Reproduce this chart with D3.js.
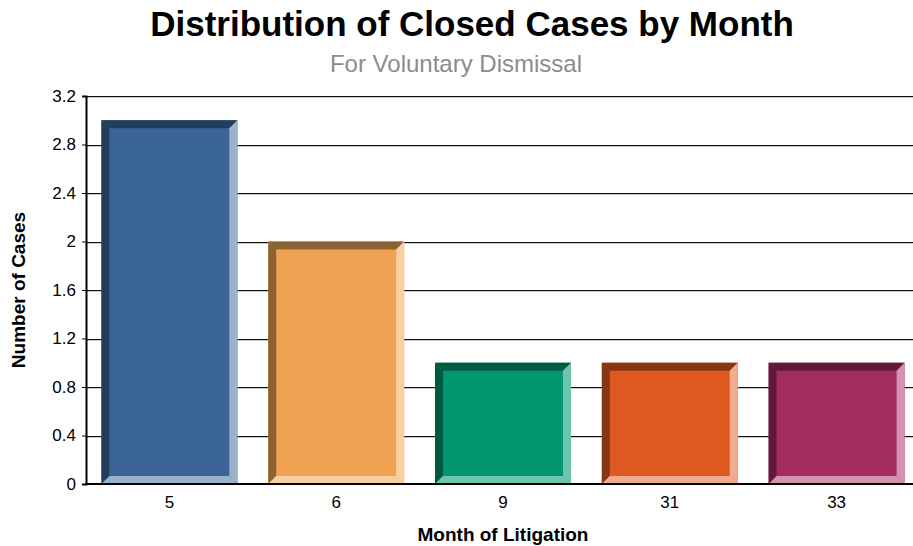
<!DOCTYPE html>
<html>
<head>
<meta charset="utf-8">
<script src="https://cdn.jsdelivr.net/npm/d3@7"></script>
<style>
  body { margin: 0; background: #fff; }
  text { font-family: "Liberation Sans", Arial, sans-serif; }
</style>
</head>
<body>
<div id="chart"></div>
<script>
var months = ["5", "6", "9", "31", "33"];
var cases = [3, 2, 1, 1, 1];
var yTicks = [0, 0.4, 0.8, 1.2, 1.6, 2, 2.4, 2.8, 3.2];
var mainColors = ["#3a6596", "#efa352", "#009670", "#de5a20", "#a22c60"];
var darkColors = ["#233d5c", "#8c6232", "#005a43", "#853613", "#61193a"];
var lightColors = ["#9bb2cc", "#f8cfa0", "#6fc4ae", "#f0ac8f", "#d393b0"];

var width = 913,
  height = 546;
var margin = {top: 96, right: -7, bottom: 62, left: 86};
var bevel = 8;

var svg = d3.select("#chart")
  .append("svg")
  .attr("width", width)
  .attr("height", height);

var x = d3.scaleBand()
  .domain(months)
  .range([margin.left, width - margin.right])
  .paddingInner(0.185)
  .paddingOuter(0.0925);

var y = d3.scaleLinear()
  .domain([0, 3.2])
  .range([height - margin.bottom, margin.top]);

//title
svg.append("text")
  .attr("x", 472)
  .attr("y", 36)
  .attr("text-anchor", "middle")
  .style("font-size", "35px")
  .style("font-weight", "bold")
  .text("Distribution of Closed Cases by Month");

svg.append("text")
  .attr("x", 456)
  .attr("y", 72)
  .attr("text-anchor", "middle")
  .style("font-size", "24px")
  .style("fill", "#8c8c8c")
  .text("For Voluntary Dismissal");

//gridlines with a soft shadow line
var grid = svg.append("g");
grid.selectAll("line.shadow")
  .data(yTicks.slice(1))
  .enter().append("line")
  .attr("class", "shadow")
  .attr("x1", margin.left)
  .attr("x2", width)
  .attr("y1", function(d) { return Math.round(y(d)) + 1.5; })
  .attr("y2", function(d) { return Math.round(y(d)) + 1.5; })
  .style("stroke", "#c8c8c8");
grid.selectAll("line.major")
  .data(yTicks.slice(1))
  .enter().append("line")
  .attr("class", "major")
  .attr("x1", margin.left)
  .attr("x2", width)
  .attr("y1", function(d) { return Math.round(y(d)) + 0.5; })
  .attr("y2", function(d) { return Math.round(y(d)) + 0.5; })
  .style("stroke", "#111");

//bars with bevel
var bars = svg.selectAll(".bar")
  .data(cases)
  .enter().append("g")
  .attr("class", "bar");

function pts(arr) {
  return arr.map(function(p) { return p.join(","); }).join(" ");
}

bars.each(function(d, i) {
  var g = d3.select(this);
  var x0 = x(months[i]), x1 = x0 + x.bandwidth();
  var y0 = y(d), y1 = y(0);
  var b = bevel;
  g.append("rect")
    .attr("x", x0).attr("y", y0)
    .attr("width", x1 - x0).attr("height", y1 - y0)
    .style("fill", mainColors[i]);
  g.append("polygon")
    .attr("points", pts([[x0, y0], [x1, y0], [x1 - b, y0 + b], [x0 + b, y0 + b]]))
    .style("fill", darkColors[i]);
  g.append("polygon")
    .attr("points", pts([[x0, y0], [x0 + b, y0 + b], [x0 + b, y1 - b], [x0, y1]]))
    .style("fill", darkColors[i]);
  g.append("polygon")
    .attr("points", pts([[x1, y0], [x1, y1], [x1 - b, y1 - b], [x1 - b, y0 + b]]))
    .style("fill", lightColors[i]);
  g.append("polygon")
    .attr("points", pts([[x0, y1], [x1, y1], [x1 - b, y1 - b], [x0 + b, y1 - b]]))
    .style("fill", lightColors[i]);
});

//axes
var yAxis = svg.append("g")
  .attr("transform", "translate(" + margin.left + ",0)")
  .call(d3.axisLeft(y).tickValues(yTicks).tickSize(4).tickPadding(6)
    .tickFormat(function(d) { return d3.format("~g")(d); }));
yAxis.select(".domain").style("stroke", "#000").style("stroke-width", 2);
yAxis.selectAll("text").style("font-size", "17px").style("fill", "#000")
  .style("font-family", "Liberation Sans, Arial, sans-serif");

var xAxis = svg.append("g")
  .attr("transform", "translate(0," + y(0) + ")")
  .call(d3.axisBottom(x).tickSize(0).tickPadding(12));
xAxis.select(".domain").remove();
xAxis.selectAll("text").style("font-size", "17px").style("fill", "#000")
  .style("font-family", "Liberation Sans, Arial, sans-serif");

svg.append("line")
  .attr("x1", margin.left - 1)
  .attr("x2", width)
  .attr("y1", y(0))
  .attr("y2", y(0))
  .style("stroke", "#000")
  .style("stroke-width", 2);

//axis titles
svg.append("text")
  .attr("x", x("9") + x.bandwidth() / 2)
  .attr("y", 541)
  .attr("text-anchor", "middle")
  .style("font-size", "19px")
  .style("font-weight", "bold")
  .text("Month of Litigation");

svg.append("text")
  .attr("transform", "translate(25," + (y(1.6)) + ") rotate(-90)")
  .attr("text-anchor", "middle")
  .style("font-size", "19px")
  .style("font-weight", "bold")
  .text("Number of Cases");
</script>
</body>
</html>
